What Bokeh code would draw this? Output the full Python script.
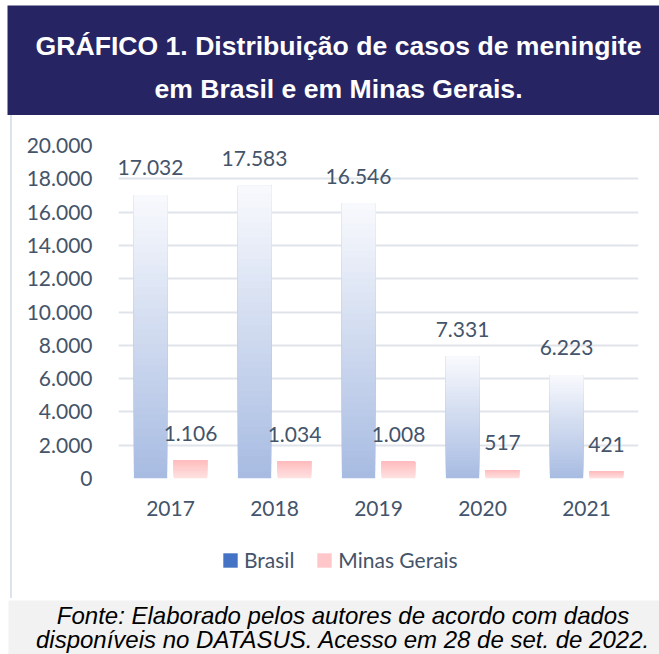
from bokeh.plotting import figure
from bokeh.models import (ColumnDataSource, FactorRange, FixedTicker, Legend,
                          LegendItem, Spacer)
from bokeh.transform import dodge
from bokeh.layouts import column, row
from bokeh.core.properties import value
from bokeh.embed import file_html
from bokeh.resources import INLINE

# ---------------- data ----------------
years = ["2017", "2018", "2019", "2020", "2021"]
brasil = [17032, 17583, 16546, 7331, 6223]
minas = [1106, 1034, 1008, 517, 421]
series_names = ["Brasil", "Minas Gerais"]
y_ticks = [0, 2000, 4000, 6000, 8000, 10000, 12000, 14000, 16000, 18000, 20000]
title_lines = ["GRÁFICO 1. Distribuição de casos de meningite",
               "em Brasil e em Minas Gerais."]
footer_lines = ["Fonte: Elaborado pelos autores de acordo com dados",
                "disponíveis no DATASUS. Acesso em 28 de set. de 2022."]

FONT = "Lato"
TXT = "#44546a"
W = 659


def fmt(v):
    return f"{v:,}".replace(",", ".")


def mix(c1, c2, t):
    r = [round(a + (b - a) * t) for a, b in zip(c1, c2)]
    return "#%02x%02x%02x" % tuple(r)


def gradient_source(vals, c_bottom, c_top, n=40):
    xs, bottoms, tops, colors = [], [], [], []
    for k in range(n):
        t = k / (n - 1)
        for yr, v in zip(years, vals):
            xs.append(yr)
            bottoms.append(v * k / n)
            tops.append(v)
            colors.append(mix(c_bottom, c_top, t))
    return ColumnDataSource(dict(x=xs, bottom=bottoms, top=tops, color=colors))


def bare(fig):
    fig.axis.visible = False
    fig.grid.visible = False
    fig.outline_line_color = None
    return fig


# ---------------- header ----------------
hdr = bare(figure(width=W, height=115, x_range=(0, W), y_range=(0, 115),
                  toolbar_location=None, output_backend="svg", min_border=0,
                  frame_align=False))
hdr.quad(left=[7], right=[W], bottom=[0], top=[110], fill_color="#272463",
         line_color=None)
hdr.text(x=[338, 338], y=[70, 27], text=title_lines, text_color="white",
         text_font=value("Liberation Sans"), text_font_style="bold",
         text_font_size="26.6px", text_align="center",
         text_baseline="middle")

# ---------------- main chart ----------------
MW = W - 12
p = figure(width=MW, height=420, x_range=FactorRange(*years, range_padding=0),
           y_range=(0, 20000), toolbar_location=None, output_backend="svg",
           min_border_left=106, min_border_right=21, min_border_top=30,
           min_border_bottom=57, frame_align=False)
p.outline_line_color = None
p.xgrid.visible = False
p.ygrid.grid_line_color = "#dfe3ea"
p.ygrid.grid_line_width = 2
p.yaxis.ticker = FixedTicker(ticks=y_ticks)
p.yaxis.major_label_overrides = {t: fmt(t) for t in y_ticks}

for ax in (p.xaxis[0], p.yaxis[0]):
    ax.axis_line_color = None
    ax.major_tick_line_color = None
    ax.minor_tick_line_color = None
    ax.major_label_text_font = FONT
    ax.major_label_text_font_size = "21px"
    ax.major_label_text_color = TXT
p.yaxis.major_label_standoff = 20
p.xaxis.major_label_standoff = 16

BW = 0.32
OFF = 0.192
src_b = gradient_source(brasil, (168, 188, 226), (248, 249, 253))
src_m = gradient_source(minas, (255, 226, 226), (255, 188, 190))
p.vbar(x=dodge("x", -OFF, range=p.x_range), bottom="bottom", top="top",
       width=BW, fill_color="color", line_color=None, source=src_b)
p.vbar(x=dodge("x", OFF, range=p.x_range), bottom="bottom", top="top",
       width=BW, fill_color="color", line_color=None, source=src_m)

lab_b = ColumnDataSource(dict(x=years, y=brasil, t=[fmt(v) for v in brasil]))
lab_m = ColumnDataSource(dict(x=years, y=minas, t=[fmt(v) for v in minas]))
for src, off in ((lab_b, -OFF), (lab_m, OFF)):
    p.text(x=dodge("x", off, range=p.x_range), y="y", text="t", source=src,
           text_font=value(FONT), text_font_size="21px", text_color=TXT,
           text_align="center", text_baseline="middle", y_offset=-27)

# ---------------- legend strip ----------------
leg = bare(figure(width=MW, height=63, x_range=(0, MW), y_range=(0, 63),
                  toolbar_location=None, output_backend="svg", min_border=0,
                  frame_align=False))
# zero-size swatch carriers (legend needs a renderer with one row)
r_b = leg.vbar(x=[0], bottom=[0], top=[0], width=0, fill_color="#4472c4",
               line_color=None)
r_m = leg.vbar(x=[0], bottom=[0], top=[0], width=0, fill_color="#ffc7c9",
               line_color=None)
legend = Legend(items=[LegendItem(label=series_names[0], renderers=[r_b]),
                       LegendItem(label=series_names[1], renderers=[r_m])],
                orientation="horizontal", location=(209, 26),
                border_line_color=None, background_fill_alpha=0,
                padding=0, margin=0, spacing=21, label_standoff=5,
                glyph_width=18, glyph_height=18, label_height=20,
                label_text_font=FONT, label_text_font_size="21px",
                label_text_color=TXT)
leg.add_layout(legend)

left_gap = Spacer(width=10, height=483)
left_edge = Spacer(width=2, height=483,
                   styles={"background-color": "#dde3ea"})
body = row(left_gap, left_edge, column(p, leg, spacing=0), spacing=0)

# ---------------- footer ----------------
ftr = bare(figure(width=W, height=56, x_range=(0, W), y_range=(0, 56),
                  toolbar_location=None, output_backend="svg", min_border=0,
                  frame_align=False))
ftr.quad(left=[8], right=[W], bottom=[0], top=[54], fill_color="#f2f2f2",
         line_color=None)
ftr.text(x=[342.5, 342.5], y=[39, 15.5], text=footer_lines, text_color="black",
         text_font=value("Liberation Sans"), text_font_style="italic",
         text_font_size="24px", text_align="center",
         text_baseline="middle")

layout = column(hdr, body, ftr, spacing=0)
open("out.html", "w").write(file_html(layout, INLINE))
